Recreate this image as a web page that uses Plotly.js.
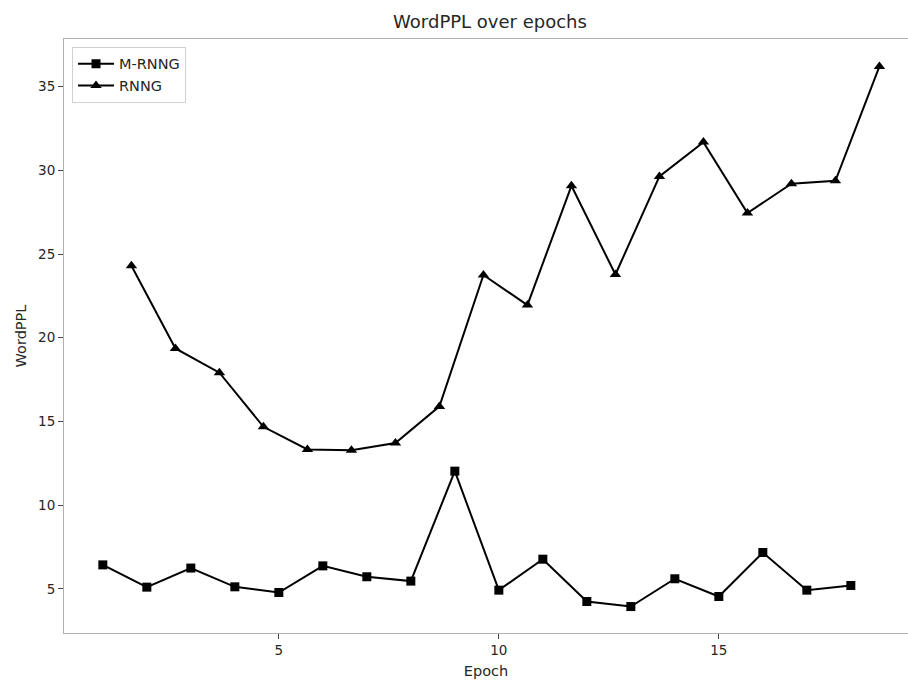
<!DOCTYPE html>
<html>
<head>
<meta charset="utf-8">
<script src="https://cdn.plot.ly/plotly-3.0.1.min.js"></script>
<style>html,body{margin:0;padding:0;background:#fff;}#chart{width:908px;height:684px;}</style>
</head>
<body>
<div id="chart"></div>
<script>
const mrnngEpochs = [1,2,3,4,5,6,7,8,9,10,11,12,13,14,15,16,17,18];
const mrnngPPL = [6.43,5.10,6.24,5.12,4.78,6.37,5.72,5.46,12.03,4.92,6.77,4.24,3.94,5.60,4.54,7.17,4.92,5.20];
const rnngEpochs = [1.65,2.65,3.65,4.65,5.65,6.65,7.65,8.65,9.65,10.65,11.65,12.65,13.65,14.65,15.65,16.65,17.65,18.65];
const rnngPPL = [24.30,19.36,17.91,14.68,13.33,13.28,13.71,15.90,23.75,21.95,29.08,23.78,29.64,31.69,27.45,29.20,29.38,36.21];
const seriesNames = ["M-RNNG","RNNG"];
const xTicks = [5,10,15];
const yTicks = [5,10,15,20,25,30,35];

const font = "DejaVu Sans, sans-serif";
const traces = [
  {x: mrnngEpochs, y: mrnngPPL, name: seriesNames[0], type: "scatter", mode: "lines+markers",
   line: {color: "#000", width: 2}, marker: {symbol: "square", size: 9, color: "#000"}},
  {x: rnngEpochs, y: rnngPPL, name: seriesNames[1], type: "scatter", mode: "lines+markers",
   line: {color: "#000", width: 2}, marker: {symbol: "triangle-up", size: 10, color: "#000"}}
];
const layout = {
  width: 908, height: 684,
  margin: {l: 64, r: 0, t: 39, b: 51},
  paper_bgcolor: "#fff", plot_bgcolor: "#fff",
  font: {family: font, size: 14, color: "#262626"},
  title: {text: "WordPPL over epochs", font: {family: font, size: 18, color: "#262626"},
          x: 490/908, xref: "container", xanchor: "center", y: 1 - 22/684, yanchor: "middle"},
  showlegend: true,
  legend: {x: 0.0095, y: 0.987, xanchor: "left", yanchor: "top", bordercolor: "#d0d0d0", borderwidth: 1,
           bgcolor: "rgba(255,255,255,0.8)", font: {family: font, size: 14.5, color: "#262626"},
           tracegroupgap: 2, itemwidth: 36},
  xaxis: {range: [0.1175, 0.1175 + 844/44], tickvals: xTicks, showgrid: false, zeroline: false,
          showline: true, linecolor: "#b0b0b0", linewidth: 1, mirror: true,
          ticks: "outside", ticklen: 5, tickcolor: "#444", tickfont: {family: font, size: 13.5, color: "#262626"},
          title: {text: "Epoch", font: {family: font, size: 14.5, color: "#262626"}, standoff: 8}},
  yaxis: {range: [2.36, 37.85], tickvals: yTicks, showgrid: false, zeroline: false,
          showline: true, linecolor: "#b0b0b0", linewidth: 1, mirror: false,
          ticks: "outside", ticklen: 5, tickcolor: "#444", tickfont: {family: font, size: 13.5, color: "#262626"},
          title: {text: "WordPPL", font: {family: font, size: 14.5, color: "#262626"}, standoff: 8}}
};
Plotly.newPlot("chart", traces, layout, {displayModeBar: false, staticPlot: true});
</script>
</body>
</html>
